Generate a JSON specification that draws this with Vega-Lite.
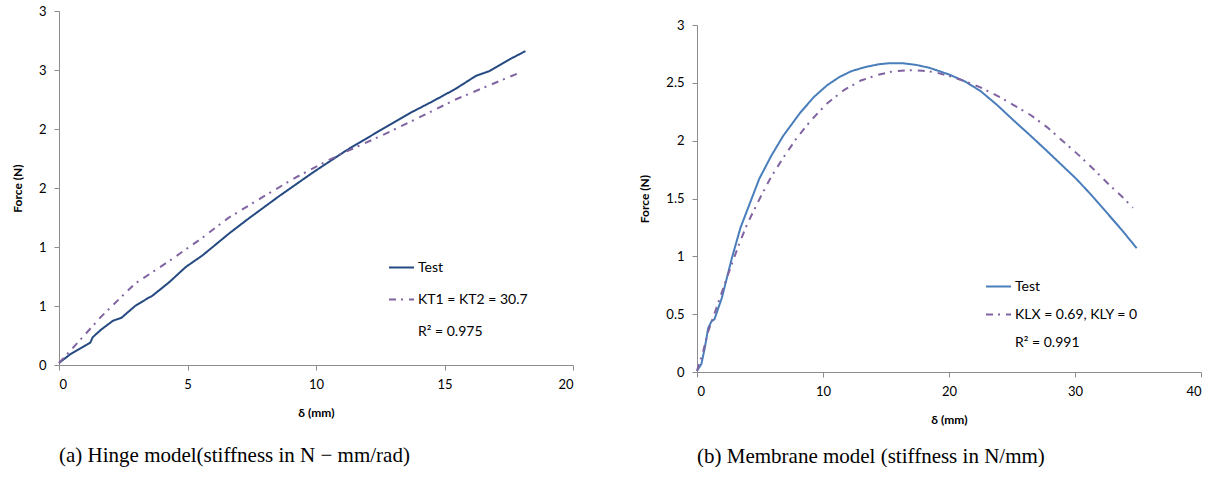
{
  "$schema": "https://vega.github.io/schema/vega-lite/v6.json",
  "padding": {"left": 11, "top": 5, "right": 0, "bottom": 0},
  "background": "white",
  "spacing": 64,
  "resolve": {
    "scale": {"color": "independent", "strokeDash": "independent", "x": "independent", "y": "independent"},
    "legend": {"color": "independent", "strokeDash": "independent"}
  },
  "datasets": {
    "hinge": [
      {"x": 0, "y": 0.017, "s": "Test"},
      {"x": 0.45, "y": 0.093, "s": "Test"},
      {"x": 0.98, "y": 0.16, "s": "Test"},
      {"x": 1.22, "y": 0.19, "s": "Test"},
      {"x": 1.31, "y": 0.235, "s": "Test"},
      {"x": 1.64, "y": 0.3, "s": "Test"},
      {"x": 2.1, "y": 0.375, "s": "Test"},
      {"x": 2.43, "y": 0.4, "s": "Test"},
      {"x": 2.96, "y": 0.5, "s": "Test"},
      {"x": 3.45, "y": 0.565, "s": "Test"},
      {"x": 3.62, "y": 0.585, "s": "Test"},
      {"x": 4.28, "y": 0.7, "s": "Test"},
      {"x": 4.93, "y": 0.83, "s": "Test"},
      {"x": 5.59, "y": 0.93, "s": "Test"},
      {"x": 6.65, "y": 1.12, "s": "Test"},
      {"x": 7.37, "y": 1.24, "s": "Test"},
      {"x": 8.56, "y": 1.43, "s": "Test"},
      {"x": 9.87, "y": 1.63, "s": "Test"},
      {"x": 11.19, "y": 1.82, "s": "Test"},
      {"x": 12.51, "y": 1.99, "s": "Test"},
      {"x": 13.7, "y": 2.14, "s": "Test"},
      {"x": 14.5, "y": 2.23, "s": "Test"},
      {"x": 15.43, "y": 2.34, "s": "Test"},
      {"x": 16.22, "y": 2.45, "s": "Test"},
      {"x": 16.74, "y": 2.49, "s": "Test"},
      {"x": 17.53, "y": 2.59, "s": "Test"},
      {"x": 18.15, "y": 2.66, "s": "Test"},
      {"x": 0, "y": 0.017, "s": "KT1 = KT2 = 30.7"},
      {"x": 0.98, "y": 0.25, "s": "KT1 = KT2 = 30.7"},
      {"x": 1.64, "y": 0.41, "s": "KT1 = KT2 = 30.7"},
      {"x": 2.96, "y": 0.69, "s": "KT1 = KT2 = 30.7"},
      {"x": 4.28, "y": 0.88, "s": "KT1 = KT2 = 30.7"},
      {"x": 5.59, "y": 1.08, "s": "KT1 = KT2 = 30.7"},
      {"x": 6.58, "y": 1.245, "s": "KT1 = KT2 = 30.7"},
      {"x": 7.9, "y": 1.42, "s": "KT1 = KT2 = 30.7"},
      {"x": 9.22, "y": 1.59, "s": "KT1 = KT2 = 30.7"},
      {"x": 10.53, "y": 1.74, "s": "KT1 = KT2 = 30.7"},
      {"x": 11.19, "y": 1.81, "s": "KT1 = KT2 = 30.7"},
      {"x": 12.51, "y": 1.94, "s": "KT1 = KT2 = 30.7"},
      {"x": 13.85, "y": 2.08, "s": "KT1 = KT2 = 30.7"},
      {"x": 14.5, "y": 2.15, "s": "KT1 = KT2 = 30.7"},
      {"x": 15.43, "y": 2.25, "s": "KT1 = KT2 = 30.7"},
      {"x": 16.74, "y": 2.37, "s": "KT1 = KT2 = 30.7"},
      {"x": 17.95, "y": 2.48, "s": "KT1 = KT2 = 30.7"}
    ],
    "membrane": [
      {"x": 0, "y": 0.01, "s": "Test"},
      {"x": 0.35, "y": 0.07, "s": "Test"},
      {"x": 0.62, "y": 0.21, "s": "Test"},
      {"x": 0.89, "y": 0.38, "s": "Test"},
      {"x": 1.16, "y": 0.44, "s": "Test"},
      {"x": 1.38, "y": 0.455, "s": "Test"},
      {"x": 1.97, "y": 0.64, "s": "Test"},
      {"x": 2.78, "y": 0.99, "s": "Test"},
      {"x": 3.46, "y": 1.25, "s": "Test"},
      {"x": 4.27, "y": 1.48, "s": "Test"},
      {"x": 4.94, "y": 1.67, "s": "Test"},
      {"x": 5.9, "y": 1.87, "s": "Test"},
      {"x": 6.83, "y": 2.04, "s": "Test"},
      {"x": 8.18, "y": 2.24, "s": "Test"},
      {"x": 9.3, "y": 2.38, "s": "Test"},
      {"x": 10.34, "y": 2.48, "s": "Test"},
      {"x": 11.3, "y": 2.55, "s": "Test"},
      {"x": 12.23, "y": 2.6, "s": "Test"},
      {"x": 13.3, "y": 2.635, "s": "Test"},
      {"x": 14.39, "y": 2.66, "s": "Test"},
      {"x": 15.3, "y": 2.67, "s": "Test"},
      {"x": 16.28, "y": 2.67, "s": "Test"},
      {"x": 17.4, "y": 2.655, "s": "Test"},
      {"x": 18.44, "y": 2.63, "s": "Test"},
      {"x": 20.06, "y": 2.57, "s": "Test"},
      {"x": 21.3, "y": 2.51, "s": "Test"},
      {"x": 22.49, "y": 2.43, "s": "Test"},
      {"x": 23.8, "y": 2.31, "s": "Test"},
      {"x": 25.18, "y": 2.17, "s": "Test"},
      {"x": 26.5, "y": 2.04, "s": "Test"},
      {"x": 27.88, "y": 1.9, "s": "Test"},
      {"x": 29.23, "y": 1.76, "s": "Test"},
      {"x": 30.1, "y": 1.67, "s": "Test"},
      {"x": 31.3, "y": 1.53, "s": "Test"},
      {"x": 32.5, "y": 1.38, "s": "Test"},
      {"x": 33.7, "y": 1.23, "s": "Test"},
      {"x": 34.9, "y": 1.07, "s": "Test"},
      {"x": 0, "y": 0.01, "s": "KLX = 0.69, KLY = 0"},
      {"x": 0.49, "y": 0.18, "s": "KLX = 0.69, KLY = 0"},
      {"x": 0.89, "y": 0.35, "s": "KLX = 0.69, KLY = 0"},
      {"x": 1.56, "y": 0.56, "s": "KLX = 0.69, KLY = 0"},
      {"x": 2.1, "y": 0.73, "s": "KLX = 0.69, KLY = 0"},
      {"x": 2.65, "y": 0.9, "s": "KLX = 0.69, KLY = 0"},
      {"x": 3.32, "y": 1.1, "s": "KLX = 0.69, KLY = 0"},
      {"x": 3.99, "y": 1.28, "s": "KLX = 0.69, KLY = 0"},
      {"x": 4.8, "y": 1.46, "s": "KLX = 0.69, KLY = 0"},
      {"x": 5.07, "y": 1.52, "s": "KLX = 0.69, KLY = 0"},
      {"x": 5.9, "y": 1.69, "s": "KLX = 0.69, KLY = 0"},
      {"x": 6.83, "y": 1.85, "s": "KLX = 0.69, KLY = 0"},
      {"x": 7.9, "y": 2.02, "s": "KLX = 0.69, KLY = 0"},
      {"x": 9.0, "y": 2.17, "s": "KLX = 0.69, KLY = 0"},
      {"x": 10.3, "y": 2.32, "s": "KLX = 0.69, KLY = 0"},
      {"x": 11.7, "y": 2.44, "s": "KLX = 0.69, KLY = 0"},
      {"x": 13.0, "y": 2.52, "s": "KLX = 0.69, KLY = 0"},
      {"x": 14.39, "y": 2.57, "s": "KLX = 0.69, KLY = 0"},
      {"x": 15.6, "y": 2.6, "s": "KLX = 0.69, KLY = 0"},
      {"x": 16.8, "y": 2.61, "s": "KLX = 0.69, KLY = 0"},
      {"x": 17.9, "y": 2.605, "s": "KLX = 0.69, KLY = 0"},
      {"x": 18.97, "y": 2.59, "s": "KLX = 0.69, KLY = 0"},
      {"x": 20.0, "y": 2.56, "s": "KLX = 0.69, KLY = 0"},
      {"x": 21.1, "y": 2.52, "s": "KLX = 0.69, KLY = 0"},
      {"x": 22.4, "y": 2.465, "s": "KLX = 0.69, KLY = 0"},
      {"x": 23.8, "y": 2.39, "s": "KLX = 0.69, KLY = 0"},
      {"x": 25.1, "y": 2.31, "s": "KLX = 0.69, KLY = 0"},
      {"x": 26.5, "y": 2.22, "s": "KLX = 0.69, KLY = 0"},
      {"x": 27.8, "y": 2.115, "s": "KLX = 0.69, KLY = 0"},
      {"x": 29.0, "y": 2.0, "s": "KLX = 0.69, KLY = 0"},
      {"x": 30.3, "y": 1.875, "s": "KLX = 0.69, KLY = 0"},
      {"x": 31.5, "y": 1.75, "s": "KLX = 0.69, KLY = 0"},
      {"x": 32.7, "y": 1.62, "s": "KLX = 0.69, KLY = 0"},
      {"x": 33.7, "y": 1.52, "s": "KLX = 0.69, KLY = 0"},
      {"x": 34.6, "y": 1.42, "s": "KLX = 0.69, KLY = 0"}
    ]
  },
  "hconcat": [
    {
      "width": 514,
      "height": 354,
      "data": {"name": "hinge"},
      "title": {"text": "(a) Hinge model(stiffness in N − mm/rad)", "orient": "bottom", "anchor": "start", "frame": "group", "offset": 27},
      "mark": {"type": "line", "strokeWidth": 2},
      "encoding": {
        "x": {"field": "x", "type": "quantitative", "scale": {"domain": [0, 20], "nice": false},
              "axis": {"values": [0, 5, 10, 15, 20], "title": "δ (mm)", "titlePadding": 16}},
        "y": {"field": "y", "type": "quantitative", "scale": {"domain": [0, 3], "nice": false, "zero": true},
              "axis": {"values": [0, 0.5, 1, 1.5, 2, 2.5, 3], "format": ".0f", "title": "Force (N)", "titlePadding": 14}},
        "color": {"field": "s", "type": "nominal",
                  "scale": {"domain": ["Test", "KT1 = KT2 = 30.7", "R² = 0.975"], "range": ["#254A82", "#8064A2", "transparent"]},
                  "legend": {"title": null, "orient": "none", "legendX": 329, "legendY": 243, "rowPadding": 11}},
        "strokeDash": {"field": "s", "type": "nominal",
                  "scale": {"domain": ["Test", "KT1 = KT2 = 30.7", "R² = 0.975"], "range": [[1, 0], [7, 5, 2, 6], [1, 0]]},
                  "legend": {"title": null, "orient": "none", "legendX": 329, "legendY": 243, "rowPadding": 11}}
      }
    },
    {
      "spacing": 0,
      "resolve": {
        "scale": {"color": "independent", "strokeDash": "independent"},
        "legend": {"color": "independent", "strokeDash": "independent"}
      },
      "vconcat": [
        {
          "width": 10,
          "height": 5,
          "data": {"values": [{"a": 1}]},
          "mark": {"type": "text", "text": ""},
          "view": {"stroke": "transparent"}
        },
        {
          "width": 504,
          "height": 347,
          "data": {"name": "membrane"},
          "title": {"text": "(b) Membrane model (stiffness in N/mm)", "orient": "bottom", "anchor": "start", "frame": "group", "offset": 21},
          "mark": {"type": "line", "strokeWidth": 2},
          "encoding": {
            "x": {"field": "x", "type": "quantitative", "scale": {"domain": [0, 40], "nice": false},
                  "axis": {"values": [0, 10, 20, 30, 40], "title": "δ (mm)", "titlePadding": 16}},
            "y": {"field": "y", "type": "quantitative", "scale": {"domain": [0, 3], "nice": false},
                  "axis": {"values": [0, 0.5, 1, 1.5, 2, 2.5, 3], "format": "~g", "title": "Force (N)", "titlePadding": 14}},
            "color": {"field": "s", "type": "nominal",
                      "scale": {"domain": ["Test", "KLX = 0.69, KLY = 0", "R² = 0.991"], "range": ["#4A7EBB", "#8064A2", "transparent"]},
                      "legend": {"title": null, "orient": "none", "legendX": 288, "legendY": 248, "rowPadding": 7}},
            "strokeDash": {"field": "s", "type": "nominal",
                      "scale": {"domain": ["Test", "KLX = 0.69, KLY = 0", "R² = 0.991"], "range": [[1, 0], [7, 5, 2, 6], [1, 0]]},
                      "legend": {"title": null, "orient": "none", "legendX": 288, "legendY": 248, "rowPadding": 7}}
          }
        }
      ]
    }
  ],
  "config": {
    "view": {"stroke": null},
    "font": "Lato",
    "axis": {
      "grid": false,
      "domainColor": "#8c8c8c",
      "tickColor": "#8c8c8c",
      "tickSize": 5,
      "labelFont": "Lato",
      "labelFontSize": 13,
      "labelColor": "#000000",
      "labelPadding": 8,
      "titleFont": "Lato",
      "titleFontSize": 12,
      "titleFontWeight": "bold",
      "titleColor": "#000000"
    },
    "legend": {
      "symbolType": "stroke",
      "symbolSize": 625,
      "symbolStrokeWidth": 2,
      "labelFont": "Lato",
      "labelFontSize": 14,
      "labelColor": "#000000",
      "labelOffset": 3,
      "padding": 0,
      "labelLimit": 300
    },
    "title": {
      "font": "Liberation Serif",
      "fontSize": 21,
      "fontWeight": "normal",
      "color": "#000000"
    }
  }
}
